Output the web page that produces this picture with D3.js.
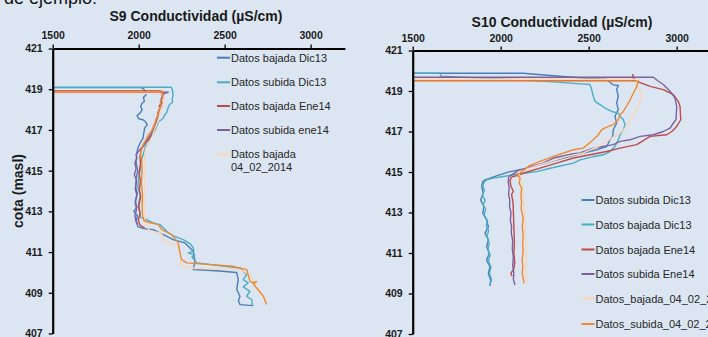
<!DOCTYPE html>
<html>
<head>
<meta charset="utf-8">
<script src="https://cdn.jsdelivr.net/npm/d3@7"></script>
<style>
  html, body { margin: 0; padding: 0; background: #dce6f2; }
  svg { display: block; font-family: "Liberation Sans", Arial, sans-serif; }
</style>
</head>
<body>
<svg id="chart" width="708" height="337"></svg>
<script>
// Conductivity profiles: each point is [conductivity µS/cm, elevation masl]
const xTicks = [1500, 2000, 2500, 3000];
const yTicks = [407, 409, 411, 413, 415, 417, 419, 421];

// ---- S9 ----
const s9BajadaDic13 = [[1500,419.08],[2016,419.08],[2030,419.0],[2040,418.88],[2042,418.72],[2028,418.6],[2033,418.4],[2018,418.3],[2012,418.15],[2020,418.0],[2010,417.85],[1990,417.7],[2000,417.55],[2025,417.5],[2040,417.4],[2050,417.25],[2035,417.1],[2030,416.85],[2025,416.6],[2008,416.35],[1995,416.1],[1988,415.8],[1985,415.4],[1994,415.0],[1986,414.6],[1982,414.2],[1992,413.9],[1980,413.5],[1990,413.2],[1972,413.0],[1992,412.8],[1986,412.5],[1995,412.25],[2030,412.15],[2085,412.1],[2124,411.94],[2201,411.61],[2269,411.45],[2318,411.04],[2327,410.55],[2318,410.14],[2450,410.08],[2570,410.0],[2579,409.65],[2570,409.16],[2589,408.83],[2580,408.6],[2589,408.42],[2666,408.37]];
const s9SubidaDic13 = [[1500,419.1],[2190,419.1],[2198,418.9],[2200,418.7],[2195,418.5],[2197,418.35],[2180,418.25],[2172,418.1],[2165,417.9],[2150,417.7],[2140,417.55],[2115,417.4],[2105,417.2],[2095,417.0],[2085,416.8],[2070,416.6],[2060,416.4],[2040,416.2],[2030,415.9],[2015,415.5],[2008,415.0],[2000,414.6],[1995,414.2],[2010,413.8],[2000,413.4],[2005,413.0],[2010,412.7],[2027,412.68],[2080,412.45],[2124,412.35],[2163,412.02],[2200,411.8],[2259,411.61],[2300,411.4],[2318,411.2],[2320,411.05],[2288,410.96],[2325,410.85],[2310,410.75],[2337,410.47],[2450,410.35],[2589,410.22],[2628,409.89],[2608,409.65],[2637,409.49],[2608,409.29],[2647,409.07],[2628,408.83],[2657,408.67],[2662,408.4]];
const s9BajadaEne14 = [[1500,418.92],[2124,418.92],[2143,418.88],[2135,418.75],[2140,418.6],[2128,418.45],[2140,418.33],[2120,418.2],[2125,418.0],[2110,417.85],[2115,417.67],[2100,417.5],[2105,417.35],[2090,417.2],[2095,417.02],[2080,416.9],[2070,416.69],[2056,416.5],[2040,416.37],[2027,416.2],[2015,416.04],[2008,415.71],[2010,415.3],[2002,414.89],[2010,414.5],[2004,414.07],[2012,413.7],[2000,413.25],[2008,412.9],[1998,412.6],[2005,412.35],[2020,412.25],[2035,412.2]];
const s9SubidaEne14 = [[1500,418.85],[2172,418.85],[2150,418.8],[2135,418.65],[2130,418.45],[2132,418.2],[2120,418.0],[2118,417.75],[2105,417.5],[2100,417.25],[2085,417.0],[2070,416.75],[2050,416.55],[2040,416.35],[2020,416.15],[2000,415.95],[1985,415.8],[1990,415.6],[1978,415.4],[1985,415.1],[1975,414.8],[1988,414.5],[1980,414.1],[1990,413.8],[1980,413.4],[1988,413.1],[1978,412.8],[1985,412.5],[1995,412.35]];
const s9Bajada040214 = [[1500,418.8],[2120,418.8],[2135,418.7],[2145,418.45],[2140,418.2],[2128,417.95],[2120,417.7],[2115,417.45],[2100,417.2],[2090,416.95],[2080,416.7],[2065,416.45],[2050,416.25],[2040,416.05],[2035,415.7],[2038,415.2],[2032,414.7],[2036,414.2],[2030,413.6],[2034,413.0],[2036,412.6],[2045,412.3],[2066,412.02],[2134,411.94],[2143,411.53],[2211,411.37],[2240,411.12],[2245,410.7],[2240,410.3],[2318,410.22],[2589,410.14],[2647,409.89],[2686,409.24],[2705,409.07],[2734,408.67]];
const s9Subida040214 = [[1500,418.88],[2143,418.88],[2135,418.75],[2140,418.55],[2125,418.4],[2130,418.2],[2118,418.0],[2112,417.8],[2105,417.6],[2095,417.35],[2085,417.15],[2075,416.95],[2056,416.75],[2045,416.55],[2027,416.3],[2016,416.05],[2010,415.8],[2018,415.55],[2020,415.0],[2016,414.4],[2022,413.8],[2020,413.2],[2022,412.8],[2030,412.55],[2060,412.45],[2114,412.35],[2134,412.1],[2192,411.86],[2230,411.45],[2240,410.96],[2250,410.63],[2279,410.47],[2550,410.3],[2628,410.14],[2647,409.57],[2660,409.5],[2686,409.55],[2665,409.45],[2690,409.2],[2725,408.83],[2744,408.42]];

// ---- S10 ----
const s10SubidaDic13 = [[1500,419.88],[2127,419.88],[2300,419.75],[2500,419.62],[2600,419.58],[2640,419.3],[2668,419.27],[2659,419.07],[2668,418.74],[2659,418.41],[2668,418.08],[2649,417.75],[2659,417.42],[2640,417.09],[2636,416.76],[2621,416.59],[2602,416.26],[2545,416.1],[2469,415.94],[2394,415.77],[2300,415.55],[2223,415.36],[2130,415.15],[2053,415.02],[1980,414.82],[1911,414.61],[1898,414.53],[1892,414.28],[1901,413.95],[1886,413.62],[1905,413.29],[1898,412.97],[1920,412.63],[1930,412.3],[1911,411.97],[1930,411.64],[1920,411.31],[1935,410.99],[1920,410.65],[1939,410.32],[1930,409.99],[1943,409.66],[1939,409.37]];
const s10BajadaDic13 = [[1500,419.88],[1655,419.88],[1660,419.73],[2000,419.6],[2300,419.45],[2450,419.35],[2507,419.32],[2517,419.07],[2526,418.74],[2536,418.49],[2564,418.33],[2593,418.16],[2631,417.99],[2668,417.91],[2678,417.75],[2697,417.58],[2706,417.34],[2697,417.09],[2678,416.84],[2668,416.59],[2649,416.26],[2621,416.01],[2583,415.85],[2520,415.75],[2451,415.6],[2413,415.44],[2300,415.22],[2205,415.02],[2100,414.9],[2015,414.78],[1960,414.7],[1920,414.61],[1905,414.5],[1898,414.3],[1908,414.1],[1895,413.85],[1912,413.6],[1900,413.4],[1915,413.15],[1905,412.9],[1925,412.6],[1918,412.35],[1932,412.1],[1922,411.85],[1935,411.5],[1928,411.2],[1940,410.9],[1930,410.6],[1945,410.3],[1935,410.0],[1948,409.7],[1940,409.45]];
const s10BajadaEne14 = [[1500,419.52],[2755,419.52],[2750,419.81],[2763,419.5],[2773,419.48],[2849,419.23],[2924,419.07],[2981,418.82],[3009,418.49],[3019,418.24],[3023,417.58],[3000,417.25],[2972,417.0],[2943,416.84],[2849,416.76],[2773,416.35],[2678,416.18],[2602,416.01],[2507,415.85],[2413,415.69],[2318,415.44],[2223,415.19],[2150,415.0],[2100,414.85],[2062,414.75],[2053,414.6],[2058,414.3],[2072,414.05],[2062,413.9],[2070,413.5],[2072,413.0],[2074,412.5],[2076,412.0],[2078,411.5],[2075,411.0],[2080,410.5],[2074,410.2],[2058,410.0],[2065,409.85]];
const s10SubidaEne14 = [[1500,419.68],[2867,419.68],[2896,419.48],[2924,419.32],[2962,418.99],[2990,418.66],[3000,418.24],[2996,417.58],[2981,417.42],[2962,417.17],[2924,417.0],[2867,416.84],[2792,416.76],[2735,416.59],[2678,416.51],[2640,416.35],[2526,416.18],[2451,415.94],[2413,415.9],[2299,415.69],[2240,415.44],[2150,415.2],[2091,415.02],[2060,414.85],[2045,414.75],[2043,414.5],[2048,414.2],[2045,413.9],[2052,413.6],[2050,413.3],[2058,413.0],[2055,412.6],[2062,412.3],[2060,412.0],[2068,411.6],[2066,411.2],[2072,410.8],[2068,410.4],[2075,410.0],[2072,409.7],[2081,409.42]];
const s10Bajada040214 = [[1500,419.58],[2770,419.58],[2782,419.15],[2801,418.82],[2792,418.49],[2773,418.08],[2754,417.83],[2735,417.58],[2716,417.25],[2697,417.09],[2668,416.84],[2631,416.68],[2602,416.51],[2555,416.26],[2469,415.94],[2375,415.77],[2280,415.52],[2223,415.36],[2150,415.15],[2100,415.0],[2110,414.8],[2120,414.5],[2128,414.0],[2132,413.5],[2135,413.0],[2138,412.5],[2140,412.0],[2142,411.5],[2143,411.0],[2145,410.5],[2144,410.0],[2147,409.5]];
const s10Subida040214 = [[1500,419.5],[2782,419.5],[2773,419.23],[2754,418.9],[2731,418.49],[2697,417.99],[2678,417.83],[2668,417.58],[2640,417.34],[2602,417.22],[2574,417.09],[2555,416.84],[2526,416.59],[2469,416.18],[2413,416.1],[2299,415.77],[2223,415.52],[2160,415.3],[2110,414.94],[2091,414.86],[2110,414.7],[2105,414.45],[2119,414.2],[2115,413.8],[2119,413.5],[2116,413.2],[2128,412.7],[2122,412.3],[2128,411.9],[2124,411.5],[2128,411.1],[2122,410.7],[2126,410.3],[2122,410.0],[2128,409.75],[2132,409.5]];

// Series colours
const cBlue = "#4a7ebb", cCyan = "#4bacc6", cRed = "#be4b48",
      cPurple = "#7d60a0", cPeach = "#fcd5b5", cOrange = "#ee8a33";

const s9Series = [
  { data: s9BajadaDic13, color: cBlue },
  { data: s9SubidaDic13, color: cCyan },
  { data: s9BajadaEne14, color: cRed },
  { data: s9SubidaEne14, color: cPurple },
  { data: s9Bajada040214, color: cPeach },
  { data: s9Subida040214, color: cOrange }
];
const s9Legend = [
  { label: ["Datos bajada Dic13"], color: cBlue },
  { label: ["Datos subida Dic13"], color: cCyan },
  { label: ["Datos bajada Ene14"], color: cRed },
  { label: ["Datos subida ene14"], color: cPurple },
  { label: ["Datos bajada", "04_02_2014"], color: cPeach }
];

const s10Series = [
  { data: s10SubidaDic13, color: cBlue },
  { data: s10BajadaDic13, color: cCyan },
  { data: s10BajadaEne14, color: cRed },
  { data: s10SubidaEne14, color: cPurple },
  { data: s10Bajada040214, color: cPeach },
  { data: s10Subida040214, color: cOrange }
];
const s10Legend = [
  { label: ["Datos subida Dic13"], color: cBlue },
  { label: ["Datos bajada Dic13"], color: cCyan },
  { label: ["Datos bajada Ene14"], color: cRed },
  { label: ["Datos subida Ene14"], color: cPurple },
  { label: ["Datos_bajada_04_02_2014"], color: cPeach },
  { label: ["Datos_subida_04_02_2014"], color: cOrange }
];

const svg = d3.select("#chart");

// Caption line of the surrounding text, cut off at the top edge
svg.append("text")
  .attr("x", 4).attr("y", 4)
  .attr("font-size", 18).attr("fill", "#111")
  .text("de ejemplo:");

function drawPanel(opt) {
  const x = d3.scaleLinear().domain([1500, 3200]).range(opt.xRange);
  const y = d3.scaleLinear().domain([407, 421]).range(opt.yRange);
  const g = svg.append("g");

  // title
  g.append("text")
    .attr("x", opt.titleX).attr("y", opt.titleY)
    .attr("text-anchor", "middle")
    .attr("font-size", 14).attr("font-weight", "bold").attr("fill", "#1a1a1a")
    .text(opt.title);

  // series lines
  const line = d3.line().x(d => x(d[0])).y(d => y(d[1]));
  opt.series.forEach(s => {
    g.append("path")
      .attr("d", line(s.data))
      .attr("fill", "none")
      .attr("stroke", s.color)
      .attr("stroke-width", 1.4)
      .attr("stroke-linejoin", "round");
  });

  // top x axis
  const xAxis = g.append("g")
    .attr("transform", `translate(0,${y(421)})`)
    .call(d3.axisTop(x).tickValues(xTicks).tickSize(4).tickSizeOuter(0).tickPadding(opt.xPad).tickFormat(d3.format("d")));
  // left y axis
  const yAxis = g.append("g")
    .attr("transform", `translate(${x(1500)},0)`)
    .call(d3.axisLeft(y).tickValues(yTicks).tickSize(4).tickSizeOuter(0).tickPadding(6).tickFormat(d3.format("d")));

  [xAxis, yAxis].forEach(a => {
    a.select(".domain").attr("stroke", "#000").attr("stroke-width", 2.2);
    a.selectAll(".tick line").attr("stroke", "#000").attr("stroke-width", 1.3);
    a.selectAll(".tick text")
      .attr("font-family", "Liberation Sans, Arial, sans-serif")
      .attr("font-size", 10.5).attr("font-weight", "bold").attr("fill", "#1a1a1a");
  });

  // legend
  const lg = g.append("g");
  opt.legend.forEach((item, i) => {
    const cy = opt.legendY[i];
    lg.append("line")
      .attr("x1", opt.legendX).attr("x2", opt.legendX + 13)
      .attr("y1", cy).attr("y2", cy)
      .attr("stroke", item.color).attr("stroke-width", 2);
    const t = lg.append("text")
      .attr("x", opt.legendX + 14).attr("y", cy + 4)
      .attr("font-size", 11).attr("fill", "#262626");
    item.label.forEach((ln, k) => {
      t.append("tspan").attr("x", opt.legendX + 14).attr("dy", k === 0 ? 0 : 12.5).text(ln);
    });
  });
  return { x, y };
}

drawPanel({
  title: "S9 Conductividad (\u00b5S/cm)", titleX: 196, titleY: 21,
  xRange: [52.7, 345], yRange: [333.5, 48.5], xPad: 6,
  series: s9Series, legend: s9Legend,
  legendX: 217, legendY: [57.7, 82.3, 106, 130, 154.3]
});

drawPanel({
  title: "S10 Conductividad (\u00b5S/cm)", titleX: 562, titleY: 27,
  xRange: [412.7, 711.9], yRange: [334, 50.5], xPad: 5,
  series: s10Series, legend: s10Legend,
  legendX: 581.5, legendY: [200, 224.5, 249.5, 274, 298.5, 324]
});

// y axis title (left panel only)
svg.append("text")
  .attr("transform", "translate(23,191) rotate(-90)")
  .attr("text-anchor", "middle")
  .attr("font-size", 14).attr("font-weight", "bold").attr("fill", "#1a1a1a")
  .text("cota (masl)");
</script>
</body>
</html>
